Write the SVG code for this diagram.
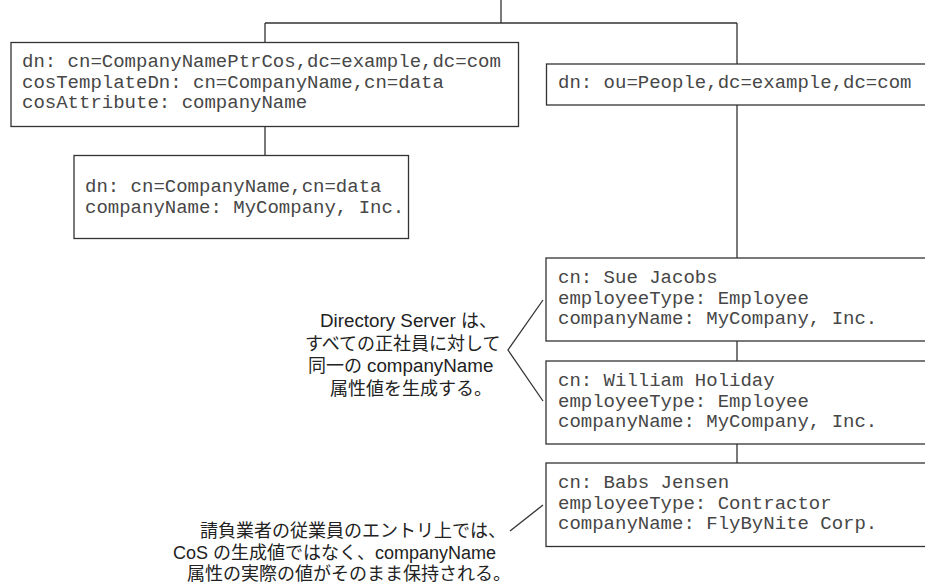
<svg xmlns="http://www.w3.org/2000/svg" width="925" height="584" viewBox="0 0 925 584">
<style>
.box{fill:#fff;stroke:#333;stroke-width:1.3}
.mono{font-family:"Liberation Mono","Courier New",monospace;font-size:19px;fill:#474747}
.note{font-family:"Liberation Sans",Arial,"Noto Sans CJK JP",sans-serif;font-size:18px;fill:#222}
.lat{font-size:18.8px}
.conn{fill:none;stroke:#333;stroke-width:1.3}
</style>
<rect width="925" height="584" fill="#fff"/>
<g id="connectors">
<path class="conn" d="M501,0 V23 M265,23 H737 M265,23 V42.5 M737,23 V64 M265,126.5 V155.5 M737,105 V258 M737,341 V361 M737,444 V463"/>
<polyline class="conn" points="543,300 508,350 543,401"/>
<line class="conn" x1="543" y1="505" x2="510" y2="531"/>
</g>
<g id="cos-def">
<rect class="box" x="11" y="42.5" width="507.5" height="84"/>
<text class="mono" x="22" y="67">dn: cn=CompanyNamePtrCos,dc=example,dc=com</text>
<text class="mono" x="22" y="87.5">cosTemplateDn: cn=CompanyName,cn=data</text>
<text class="mono" x="22" y="108">cosAttribute: companyName</text>
</g>
<g id="cos-template">
<rect class="box" x="74" y="155.5" width="334.5" height="83"/>
<text class="mono" x="85" y="192">dn: cn=CompanyName,cn=data</text>
<text class="mono" x="85" y="212.5">companyName: MyCompany, Inc.</text>
</g>
<g id="people">
<rect class="box" x="546.5" y="64" width="400" height="41"/>
<text class="mono" x="558" y="88">dn: ou=People,dc=example,dc=com</text>
</g>
<g id="sue">
<rect class="box" x="546" y="258" width="400" height="83"/>
<text class="mono" x="558" y="283">cn: Sue Jacobs</text>
<text class="mono" x="558" y="303.5">employeeType: Employee</text>
<text class="mono" x="558" y="324">companyName: MyCompany, Inc.</text>
</g>
<g id="william">
<rect class="box" x="546" y="361" width="400" height="83"/>
<text class="mono" x="558" y="386">cn: William Holiday</text>
<text class="mono" x="558" y="406.5">employeeType: Employee</text>
<text class="mono" x="558" y="427">companyName: MyCompany, Inc.</text>
</g>
<g id="babs">
<rect class="box" x="546" y="463" width="400" height="83.5"/>
<text class="mono" x="558" y="488">cn: Babs Jensen</text>
<text class="mono" x="558" y="508.5">employeeType: Contractor</text>
<text class="mono" x="558" y="529">companyName: FlyByNite Corp.</text>
</g>
<g id="note-employees">
<text class="note" x="320" y="327"><tspan class="lat">Directory Server </tspan>は、</text>
<text class="note" x="305" y="350">すべての正社員に対して</text>
<text class="note" x="308" y="372">同一の <tspan class="lat">companyName</tspan></text>
<text class="note" x="330" y="395">属性値を生成する。</text>
</g>
<g id="note-contractor">
<text class="note" x="200" y="537">請負業者の従業員のエントリ上では、</text>
<text class="note" x="173" y="559">CoS の生成値ではなく、companyName</text>
<text class="note" x="187" y="580">属性の実際の値がそのまま保持される。</text>
</g>
</svg>
